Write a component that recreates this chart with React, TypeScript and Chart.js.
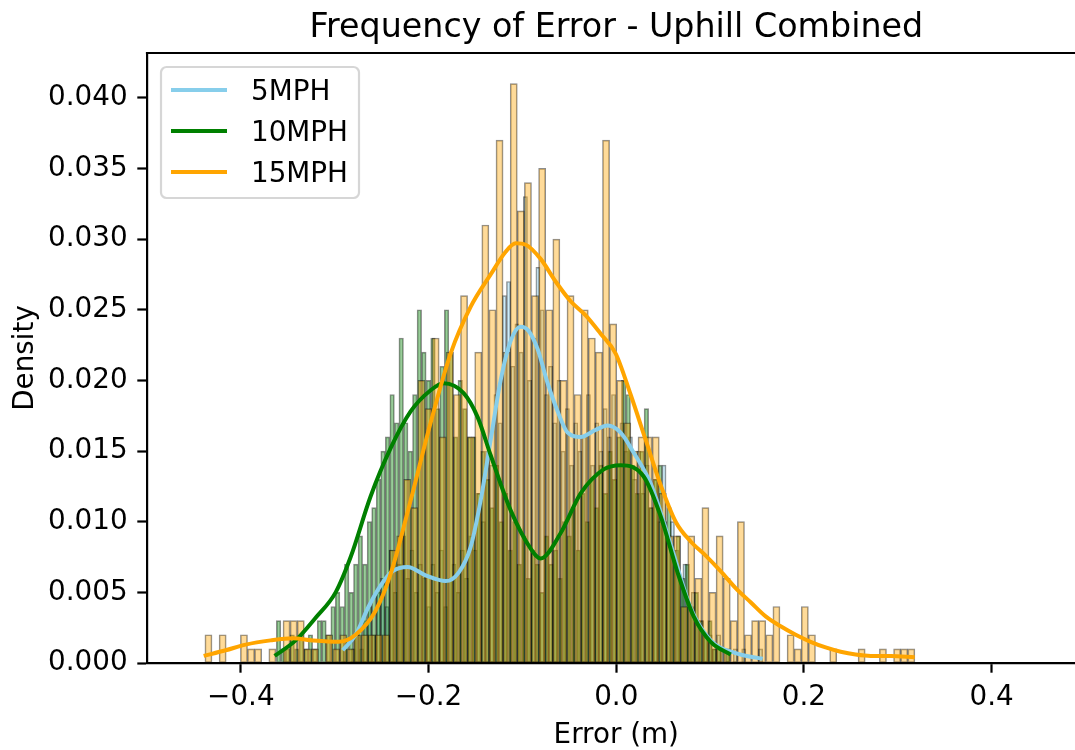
import React, { useEffect, useRef } from 'react';
import { Chart, registerables } from 'chart.js';

Chart.register(...registerables);

const chartTitle = 'Frequency of Error - Uphill Combined';
const xAxisTitle = 'Error (m)';
const yAxisTitle = 'Density';
const seriesLabels = ['5MPH', '10MPH', '15MPH'];
const lineColors = ['#87CEEB', '#008000', '#FFA500'];
const barColors = ['rgba(135,206,235,0.4)', 'rgba(0,128,0,0.4)', 'rgba(255,165,0,0.4)'];

const xTickValues = [-0.4, -0.2, 0, 0.2, 0.4];
const xTickLabels = ['\u22120.4', '\u22120.2', '0.0', '0.2', '0.4'];
const yTickValues = [0, 0.005, 0.01, 0.015, 0.02, 0.025, 0.03, 0.035, 0.04];
const yTickLabels = ['0.000', '0.005', '0.010', '0.015', '0.020', '0.025', '0.030', '0.035', '0.040'];
const xMin = -0.5;
const xMax = 0.5;
const yMax = 0.04317;

// 5MPH histogram (100 bins)
const binStart5 = -0.2915;
const binWidth5 = 0.004475;
const hist5 = [
  0.001, 0, 0.001, 0.002, 0.001, 0.003, 0.004, 0.002, 0.005, 0.006,
  0.004, 0.008, 0.005, 0.007, 0.009, 0.006, 0.008, 0.005, 0.007, 0.006,
  0.004, 0.007, 0.005, 0.008, 0.004, 0.006, 0.007, 0.005, 0.008, 0.006,
  0.009, 0.008, 0.012, 0.010, 0.015, 0.014, 0.019, 0.017, 0.026, 0.027,
  0.021, 0.024, 0.022, 0.033, 0.020, 0.023, 0.028, 0.025, 0.019, 0.021,
  0.017, 0.020, 0.015, 0.018, 0.014, 0.017, 0.015, 0.016, 0.019, 0.014,
  0.017, 0.015, 0.018, 0.016, 0.019, 0.014, 0.017, 0.015, 0.016, 0.013,
  0.015, 0.012, 0.014, 0.011, 0.013, 0.010, 0.014, 0.009, 0.010, 0.008,
  0.006, 0.007, 0.004, 0.005, 0.003, 0.003, 0.002, 0.002, 0.001, 0.002,
  0.001, 0.001, 0, 0.001, 0, 0.001, 0, 0, 0, 0.001,
];

// 10MPH histogram (100 bins)
const binStart10 = -0.3622;
const binWidth10 = 0.004838;
const hist10 = [
  0.003, 0.001, 0.001, 0.002, 0.001, 0.002, 0.001, 0.002, 0.001, 0.003,
  0.003, 0.002, 0.004, 0.005, 0.004, 0.007, 0.005, 0.007, 0.009, 0.007,
  0.010, 0.011, 0.013, 0.015, 0.016, 0.019, 0.017, 0.023, 0.017, 0.015,
  0.019, 0.025, 0.022, 0.020, 0.023, 0.018, 0.021, 0.025, 0.022, 0.016,
  0.020, 0.018, 0.016, 0.016, 0.012, 0.015, 0.013, 0.011, 0.014, 0.010,
  0.012, 0.008, 0.010, 0.007, 0.009, 0.006, 0.008, 0.007, 0.005, 0.009,
  0.007, 0.008, 0.006, 0.010, 0.009, 0.011, 0.008, 0.012, 0.010, 0.013,
  0.011, 0.014, 0.012, 0.015, 0.013, 0.016, 0.020, 0.019, 0.014, 0.012,
  0.015, 0.018, 0.011, 0.013, 0.014, 0.010, 0.011, 0.008, 0.009, 0.006,
  0.007, 0.004, 0.005, 0.003, 0.002, 0.003, 0.001, 0.001, 0, 0.001,
];

// 15MPH histogram (100 bins)
const binStart15 = -0.4383;
const binWidth15 = 0.007565;
const hist15 = [
  0.002, 0, 0.002, 0, 0, 0.002, 0.001, 0.001, 0, 0.001,
  0, 0.003, 0.003, 0.003, 0.001, 0.001, 0, 0.002, 0.001, 0.002,
  0.001, 0.002, 0.002, 0.002, 0.002, 0.002, 0.008, 0.009, 0.013, 0.011,
  0.020, 0.018, 0.023, 0.016, 0.022, 0.019, 0.026, 0.016, 0.022, 0.031,
  0.025, 0.037, 0.022, 0.041, 0.032, 0.034, 0.026, 0.035, 0.025, 0.030,
  0.020, 0.026, 0.019, 0.025, 0.023, 0.022, 0.037, 0.024, 0.020, 0.017,
  0.015, 0.016, 0.016, 0.016, 0.012, 0.009, 0.009, 0.004, 0.009, 0.006,
  0.011, 0.005, 0.009, 0.006, 0.003, 0.010, 0.002, 0.003, 0.003, 0.002,
  0.004, 0, 0.002, 0.001, 0.004, 0.002, 0, 0, 0.001, 0,
  0, 0, 0.001, 0, 0, 0.001, 0, 0.001, 0.001, 0.001,
];

// KDE curves
const kdeX5 = [
  -0.2915, -0.2777, -0.2638, -0.251, -0.2383, -0.2223, -0.2031, -0.1818, -0.1679, -0.1552,
  -0.1445, -0.1338, -0.1232, -0.1125, -0.1019, -0.0933, -0.0837, -0.0731, -0.0624, -0.0518,
  -0.0379, -0.0219, -0.0092, 0.0047, 0.0175, 0.0367, 0.058, 0.0793, 0.1006, 0.1272, 0.156,
];
const kdeY5 = [
  0.0009, 0.002, 0.004, 0.0055, 0.0065, 0.0068, 0.0062, 0.0058, 0.0064, 0.0082,
  0.0115, 0.0158, 0.02, 0.0228, 0.0238, 0.0235, 0.0222, 0.0198, 0.0178, 0.0163,
  0.016, 0.0165, 0.0168, 0.0163, 0.015, 0.0127, 0.0084, 0.0039, 0.0016, 0.0007, 0.0003,
];

const kdeX10 = [
  -0.364, -0.3416, -0.3203, -0.299, -0.283, -0.2617, -0.2404, -0.2191, -0.1978, -0.1839,
  -0.1626, -0.1477, -0.1338, -0.1125, -0.0912, -0.0806, -0.0592, -0.0379, -0.0134, 0.0047,
  0.0292, 0.0473, 0.0654, 0.0825, 0.1006, 0.122,
];
const kdeY10 = [
  0.0005, 0.0016, 0.0032, 0.005, 0.0075, 0.0118, 0.0152, 0.0178, 0.0193, 0.0198,
  0.0191, 0.0174, 0.0147, 0.0108, 0.0081, 0.0074, 0.0092, 0.012, 0.0137, 0.014,
  0.0132, 0.0104, 0.0064, 0.0033, 0.0015, 0.0006,
];

const kdeX15 = [
  -0.4396, -0.4162, -0.3949, -0.3683, -0.3448, -0.3235, -0.2958, -0.2777, -0.2564, -0.2404,
  -0.2191, -0.1978, -0.1765, -0.1552, -0.1338, -0.1178, -0.1072, -0.0965, -0.0806, -0.0646,
  -0.0486, -0.0326, -0.0166, -0.0006, 0.0153, 0.0313, 0.0473, 0.0633, 0.0793, 0.0953,
  0.1112, 0.1272, 0.1432, 0.1592, 0.1752, 0.1912, 0.2071, 0.2231, 0.2391, 0.2551,
  0.2711, 0.2924, 0.318,
];
const kdeY15 = [
  0.0005, 0.0009, 0.0013, 0.0016, 0.00175, 0.0016, 0.0015, 0.002, 0.0037, 0.0063,
  0.0115, 0.017, 0.0219, 0.0252, 0.0275, 0.0291, 0.0297, 0.0296, 0.0286, 0.027,
  0.0256, 0.0246, 0.0233, 0.0219, 0.019, 0.0158, 0.0126, 0.01, 0.0086, 0.0076,
  0.0065, 0.0053, 0.0043, 0.0033, 0.0026, 0.002, 0.0015, 0.0011, 0.0008, 0.0006,
  0.0005, 0.0005, 0.0004,
];

const FONT = 'DejaVu Sans';
const CANVAS_W = 1100;
const CANVAS_H = 750;
const Y_AXIS_W = 147;
const X_AXIS_H = 87;
const PAD_TOP = 53;
const PAD_RIGHT = 14.5;
const PX_PER_UNIT = (CANVAS_W - PAD_RIGHT - Y_AXIS_W) / (xMax - xMin);

function binPoints(start: number, width: number, values: number[]) {
  return values
    .map((y, i) => ({ x: start + (i + 0.5) * width, y }))
    .filter((p) => p.y > 0);
}

function curvePoints(xs: number[], ys: number[]) {
  return xs.map((x, i) => ({ x, y: ys[i] }));
}

const frameTitleLegend = {
  id: 'frameTitleLegend',
  afterDraw(chart: any) {
    const { ctx, chartArea } = chart;
    ctx.save();
    // title centred over the axes
    ctx.fillStyle = '#000';
    ctx.font = `33.3px "${FONT}"`;
    ctx.textAlign = 'center';
    ctx.textBaseline = 'alphabetic';
    ctx.fillText(chartTitle, (chartArea.left + chartArea.right) / 2, 36.5);

    // top and right spines
    ctx.strokeStyle = '#000';
    ctx.lineWidth = 2.2;
    ctx.beginPath();
    ctx.moveTo(chartArea.left - 1.1, chartArea.top);
    ctx.lineTo(chartArea.right + 1.1, chartArea.top);
    ctx.stroke();
    ctx.beginPath();
    ctx.moveTo(chartArea.right, chartArea.top);
    ctx.lineTo(chartArea.right, chartArea.bottom);
    ctx.stroke();

    // legend
    const items = chart.data.datasets.filter((d: any) => d.type === 'line');
    const bx = chartArea.left + 14;
    const by = chartArea.top + 14;
    const bw = 198;
    const bh = 131;
    const r = 5.6;
    ctx.beginPath();
    ctx.moveTo(bx + r, by);
    ctx.lineTo(bx + bw - r, by);
    ctx.arcTo(bx + bw, by, bx + bw, by + r, r);
    ctx.lineTo(bx + bw, by + bh - r);
    ctx.arcTo(bx + bw, by + bh, bx + bw - r, by + bh, r);
    ctx.lineTo(bx + r, by + bh);
    ctx.arcTo(bx, by + bh, bx, by + bh - r, r);
    ctx.lineTo(bx, by + r);
    ctx.arcTo(bx, by, bx + r, by, r);
    ctx.closePath();
    ctx.fillStyle = 'rgba(255,255,255,0.8)';
    ctx.fill();
    ctx.strokeStyle = 'rgba(204,204,204,0.8)';
    ctx.lineWidth = 2.2;
    ctx.stroke();

    ctx.font = `27.8px "${FONT}"`;
    ctx.textAlign = 'left';
    ctx.textBaseline = 'alphabetic';
    items.forEach((d: any, i: number) => {
      const ly = by + 23 + i * 41;
      ctx.strokeStyle = d.borderColor;
      ctx.lineWidth = 4;
      ctx.beginPath();
      ctx.moveTo(bx + 10, ly);
      ctx.lineTo(bx + 66, ly);
      ctx.stroke();
      ctx.fillStyle = '#000';
      ctx.fillText(d.label, bx + 90, ly + 10.1);
    });
    ctx.restore();
  },
};

export default function App() {
  const canvasRef = useRef<HTMLCanvasElement | null>(null);

  useEffect(() => {
    const canvas = canvasRef.current;
    if (!canvas) return;
    Chart.defaults.font.family = FONT;

    const barDataset = (idx: number, start: number, width: number, values: number[], order: number) => ({
      type: 'bar',
      label: seriesLabels[idx] + ' hist',
      data: binPoints(start, width, values),
      xAxisID: 'x',
      yAxisID: 'y',
      backgroundColor: barColors[idx],
      borderColor: 'rgba(0,0,0,0.45)',
      borderWidth: 1,
      borderSkipped: false,
      grouped: false,
      barThickness: width * PX_PER_UNIT,
      order,
    });

    const lineDataset = (idx: number, xs: number[], ys: number[], order: number) => ({
      type: 'line',
      label: seriesLabels[idx],
      data: curvePoints(xs, ys),
      xAxisID: 'x',
      yAxisID: 'y',
      borderColor: lineColors[idx],
      backgroundColor: lineColors[idx],
      borderWidth: 4,
      pointRadius: 0,
      fill: false,
      cubicInterpolationMode: 'monotone',
      order,
    });

    const chart = new Chart(canvas, {
      type: 'bar',
      data: {
        datasets: [
          lineDataset(0, kdeX5, kdeY5, 2),
          lineDataset(1, kdeX10, kdeY10, 1),
          lineDataset(2, kdeX15, kdeY15, 0),
          barDataset(0, binStart5, binWidth5, hist5, 5),
          barDataset(1, binStart10, binWidth10, hist10, 4),
          barDataset(2, binStart15, binWidth15, hist15, 3),
        ] as any,
      },
      options: {
        responsive: false,
        animation: false,
        devicePixelRatio: 1,
        layout: { padding: { left: 0, right: PAD_RIGHT, top: PAD_TOP, bottom: 0 } },
        plugins: {
          legend: { display: false },
          tooltip: { enabled: false },
          title: { display: false },
        },
        scales: {
          x: {
            type: 'linear',
            position: 'bottom',
            min: xMin,
            max: xMax,
            offset: false,
            z: 1,
            afterFit: (s: any) => {
              s.height = X_AXIS_H;
            },
            afterBuildTicks: (s: any) => {
              s.ticks = xTickValues.map((value) => ({ value }));
            },
            ticks: {
              callback: (_v: any, i: number) => xTickLabels[i],
              color: '#000',
              font: { family: FONT, size: 27.8 },
              padding: 8,
              maxRotation: 0,
              autoSkip: false,
            },
            grid: {
              drawOnChartArea: false,
              drawTicks: true,
              tickLength: 9.7,
              tickWidth: 2.2,
              tickColor: '#000',
              offset: false,
            },
            border: { display: true, color: '#000', width: 2.2 },
            title: {
              display: true,
              text: xAxisTitle,
              color: '#000',
              font: { family: FONT, size: 27.8, lineHeight: 1 },
              padding: { top: 0, bottom: 0 },
            },
          },
          y: {
            type: 'linear',
            position: 'left',
            min: 0,
            max: yMax,
            z: 1,
            afterFit: (s: any) => {
              s.width = Y_AXIS_W;
            },
            afterBuildTicks: (s: any) => {
              s.ticks = yTickValues.map((value) => ({ value }));
            },
            ticks: {
              callback: (_v: any, i: number) => yTickLabels[i],
              color: '#000',
              font: { family: FONT, size: 27.8 },
              padding: 9.7,
              autoSkip: false,
            },
            grid: {
              drawOnChartArea: false,
              drawTicks: true,
              tickLength: 9.7,
              tickWidth: 2.2,
              tickColor: '#000',
            },
            border: { display: true, color: '#000', width: 2.2 },
            title: {
              display: true,
              text: yAxisTitle,
              color: '#000',
              font: { family: FONT, size: 27.8, lineHeight: 1 },
              padding: { top: 12, bottom: 0 },
            },
          },
        },
      } as any,
      plugins: [frameTitleLegend],
    });

    return () => {
      chart.destroy();
    };
  }, []);

  return (
    <div
      style={{
        position: 'absolute',
        left: 0,
        top: 0,
        width: 1075,
        height: CANVAS_H,
        overflow: 'hidden',
        background: '#fff',
      }}
    >
      <canvas ref={canvasRef} width={CANVAS_W} height={CANVAS_H} style={{ display: 'block' }} />
    </div>
  );
}
